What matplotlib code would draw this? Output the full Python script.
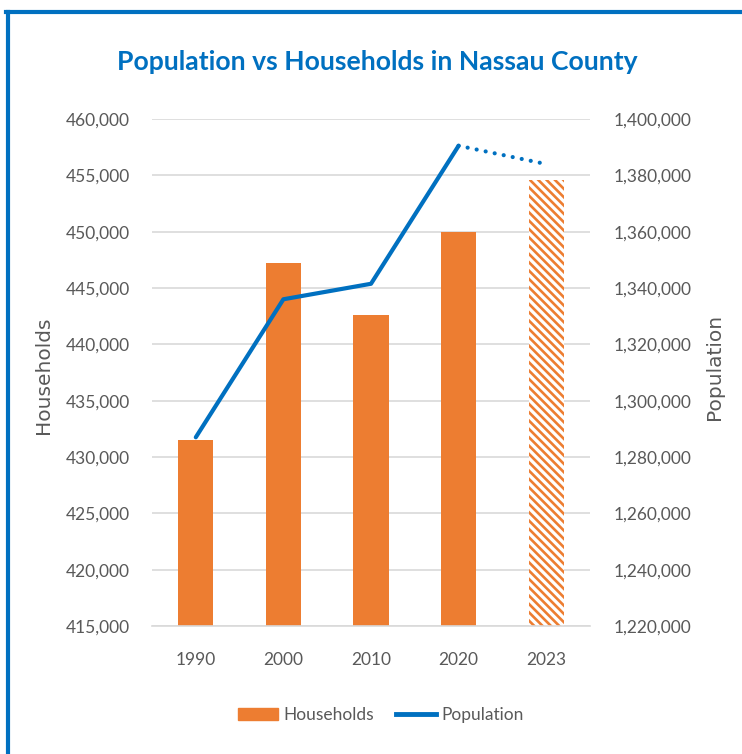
import matplotlib
matplotlib.use("Agg")
import matplotlib.pyplot as plt
from matplotlib.lines import Line2D
from matplotlib.patches import Patch
from matplotlib.ticker import FuncFormatter

years = ['1990', '2000', '2010', '2020', '2023']
households = [431500, 447200, 442600, 450000, 454600]
population = [1287000, 1336000, 1341500, 1390500, 1384000]

blue = '#0070C0'
orange = '#ED7D31'
grey = '#595959'
narrow = ['Lato', 'DejaVu Sans']

plt.rcParams['hatch.linewidth'] = 1.9

fig = plt.figure(figsize=(7.42, 7.54), dpi=100)
ax = fig.add_axes((152/742, 1-626/754, 438/742, 507/754))
ax2 = ax.twinx()

x = list(range(len(years)))
ax.bar(x[:4], households[:4], width=0.4, color=orange, zorder=2)
ax.bar(x[4], households[4], width=0.4, color='white', edgecolor=orange,
       linewidth=0, hatch='\\\\\\\\', zorder=2)

ax2.plot(x[:4], population[:4], color=blue, linewidth=3, solid_capstyle='round', zorder=3)
ax2.plot(x[3:], population[3:], color=blue, linewidth=3,
         linestyle=(0, (0.01, 2.2)), dash_capstyle='round', zorder=3)

ax.set_ylim(415000, 460000)
ax.set_yticks(range(415000, 460001, 5000))
ax2.set_ylim(1220000, 1400000)
ax2.set_yticks(range(1220000, 1400001, 20000))
ax.set_xlim(-0.5, 4.5)
ax.set_xticks(x)
ax.set_xticklabels(years)

fmt = FuncFormatter(lambda v, p: f'{int(v):,}')
ax.yaxis.set_major_formatter(fmt)
ax2.yaxis.set_major_formatter(fmt)

ax.grid(axis='y', color='#D9D9D9', linewidth=1.2, zorder=0)
ax.set_axisbelow(True)
for a in (ax, ax2):
    for s in a.spines.values():
        s.set_visible(False)
ax.spines['bottom'].set_visible(True)
ax.spines['bottom'].set_color('#D9D9D9')
ax.spines['bottom'].set_linewidth(1.2)

ax.tick_params(axis='y', length=0, pad=16, labelsize=12.5, labelcolor=grey)
ax2.tick_params(axis='y', length=0, pad=17, labelsize=12.5, labelcolor=grey)
ax.tick_params(axis='x', length=0, pad=19, labelsize=12.5, labelcolor=grey)
for lab in ax.get_xticklabels() + ax.get_yticklabels() + ax2.get_yticklabels():
    lab.set_family(narrow)

ax.set_ylabel('Households', fontsize=14.5, color=grey)
ax.yaxis.set_label_coords(-0.225, 0.495)
ax2.set_ylabel('Population', fontsize=14.5, color=grey)
ax2.yaxis.set_label_coords(1.262, 0.51)

title = fig.text(377.5/742, 1-62/754, 'Population vs Households in Nassau County',
                 ha='center', va='center', fontsize=20, fontweight='bold',
                 color=blue, family=narrow)
# fit title to the width it has in the reference
r = fig.canvas.get_renderer()
w = title.get_window_extent(r).width
title.set_fontsize(20 * 519 / w)

handles = [Patch(facecolor=orange, edgecolor=orange),
           Line2D([0], [0], color=blue, linewidth=3.5)]
fig.legend(handles, ['Households', 'Population'], loc='center',
           bbox_to_anchor=(381/742, 1-715/754), ncol=2, frameon=False,
           prop={'family': narrow, 'size': 12.5}, labelcolor=grey,
           handlelength=2.3, handletextpad=0.3, columnspacing=1.3)

# blue frame around the chart
fig.add_artist(Line2D([6/742, 1], [1-12/754, 1-12/754], color=blue, linewidth=3,
                      transform=fig.transFigure))
fig.add_artist(Line2D([8/742, 8/742], [0, 1-12/754], color=blue, linewidth=3,
                      transform=fig.transFigure))

fig.savefig('out.png', dpi=100)
